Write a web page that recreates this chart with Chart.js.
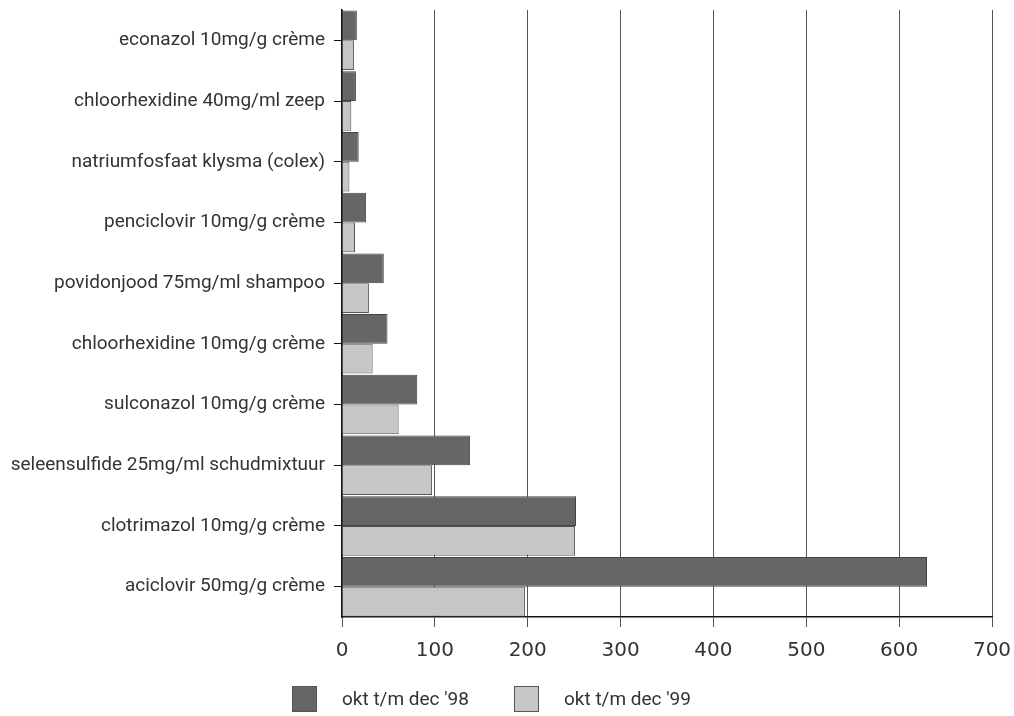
<!DOCTYPE html>
<html>
<head>
<meta charset="utf-8">
<script src="https://cdn.jsdelivr.net/npm/chart.js@4"></script>
<style>
  html, body { margin: 0; padding: 0; background: #fff; }
  #wrap { position: relative; width: 1014px; height: 716px; }
  .leg { position: absolute; top: 686px; height: 26px; font: 19px 'Roboto', sans-serif; color: #333; }
  .leg span.box { position: absolute; left: 0; top: 0; width: 25px; height: 26px; box-sizing: border-box; border: 1px solid #555; }
  .leg span.txt { position: absolute; left: 50px; top: 1px; white-space: nowrap; }
</style>
</head>
<body>
<div id="wrap">
  <canvas id="canva1" width="1014" height="716"></canvas>
  <div class="leg" style="left:292px"><span class="box" style="background:#666"></span><span class="txt">okt t/m dec '98</span></div>
  <div class="leg" style="left:514px"><span class="box" style="background:#c6c6c6"></span><span class="txt">okt t/m dec '99</span></div>
</div>
<script>
const Products = ['econazol 10mg/g crème', 'chloorhexidine 40mg/ml zeep', 'natriumfosfaat klysma (colex)', 'penciclovir 10mg/g crème', 'povidonjood 75mg/ml shampoo', 'chloorhexidine 10mg/g crème', 'sulconazol 10mg/g crème', 'seleensulfide 25mg/ml schudmixtuur', 'clotrimazol 10mg/g crème', 'aciclovir 50mg/g crème'];
const okt98 = [16, 15, 18, 26, 45, 49, 81, 138, 252, 630];
const okt99 = [13, 10, 8, 14, 29, 33, 61, 97, 251, 197];
const xTicks = [0, 100, 200, 300, 400, 500, 600, 700];
const seriesNames = ["okt t/m dec '98", "okt t/m dec '99"];

const textColor = '#333';
const labelFont = "'Roboto', sans-serif";

var ctx1 = document.getElementById('canva1').getContext('2d');

const chartData = {
    labels: Products,
    datasets: [{
        label: seriesNames[0],
        data: okt98,
        backgroundColor: '#666',
        borderColor: '#444',
        borderWidth: 1,
        categoryPercentage: 0.98,
        barPercentage: 1
    }, {
        label: seriesNames[1],
        data: okt99,
        backgroundColor: '#c6c6c6',
        borderColor: '#555',
        borderWidth: 1,
        categoryPercentage: 0.98,
        barPercentage: 1
    }]
};

const chartConfig = {
    type: 'bar',
    data: chartData,
    options: {
        indexAxis: 'y',
        responsive: false,
        animation: false,
        layout: { padding: { top: 10, right: 22, left: 0, bottom: 0 } },
        scales: {
            x: {
                min: 0,
                max: 700,
                afterBuildTicks: scale => { scale.ticks = xTicks.map(v => ({ value: v })); },
                afterFit: scale => {
                    scale.height = 99;
                    scale.paddingLeft = 0;
                    scale.paddingRight = 0;
                },
                grid: { color: '#555', lineWidth: 1, tickLength: 10 },
                border: { color: '#111', width: 1.5 },
                ticks: {
                    color: textColor,
                    padding: 12,
                    font: { family: "'DejaVu Sans', sans-serif", size: 20 }
                }
            },
            y: {
                afterFit: scale => {
                    scale.width = 342;
                    scale.paddingTop = 0;
                    scale.paddingBottom = 0;
                },
                grid: { offset: false, drawOnChartArea: false, tickLength: 8, color: '#111' },
                border: { color: '#111', width: 1.5 },
                ticks: {
                    color: textColor,
                    padding: 9,
                    font: { family: labelFont, size: 19 }
                }
            }
        },
        plugins: {
            legend: { display: false },
            tooltip: { enabled: false }
        }
    }
};

let myChart = new Chart(ctx1, chartConfig);
</script>
</body>
</html>
